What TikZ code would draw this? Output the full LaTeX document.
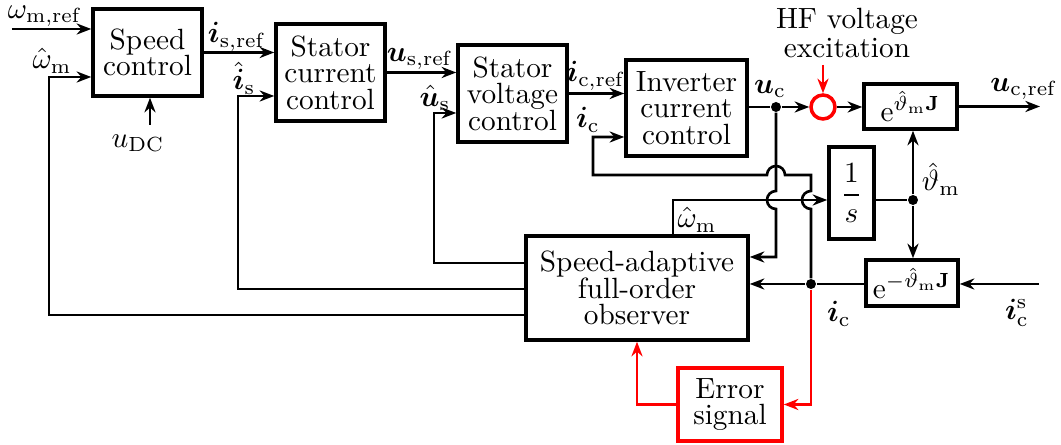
\documentclass[tikz,border=0pt]{standalone}
\usepackage{amsmath}
\usepackage{bm}
\usetikzlibrary{arrows.meta}
\newcommand{\pxu}{0.3415pt}
\tikzset{
    EMPTY/.style={inner sep=0mm, outer sep=0mm},
    BLOCK/.style={draw=black, shape=rectangle, line width=1.2pt, inner sep=0mm,
        align=center, font={\linespread{0.75}\selectfont\lineskiplimit=-5pt}},
    RED_BLOCK/.style={BLOCK, draw=red},
    SUM/.style={draw=red, shape=circle, line width=1.2pt, minimum size=24*\pxu,
        inner sep=0mm},
    BLACK_DOT/.style={fill=black, shape=circle, minimum size=10*\pxu, inner sep=0mm},
    EDGE/.style={draw=black, line width=0.9pt},
    ARROW/.style={EDGE, -{Stealth[length=5pt, width=3.8pt]}},
    RED_EDGE/.style={EDGE, red},
    RED_ARROW/.style={ARROW, red}
}
\pgfdeclarelayer{edgelayer}
\pgfdeclarelayer{nodelayer}
\pgfsetlayers{edgelayer,nodelayer,main}

\begin{document}
\begin{tikzpicture}[x=\pxu, y=-\pxu]
    \useasboundingbox (0,0) rectangle (1061,445);
    \begin{pgfonlayer}{nodelayer}
        % blocks
        \node [BLOCK, minimum width=109*\pxu, minimum height=87*\pxu] (speed) at (147.5,52.5) {Speed\\control};
        \node [BLOCK, minimum width=109*\pxu, minimum height=97*\pxu] (scc) at (330.5,72.5) {Stator\\current\\control};
        \node [BLOCK, minimum width=109*\pxu, minimum height=97*\pxu] (svc) at (512.5,93.5) {Stator\\voltage\\control};
        \node [BLOCK, minimum width=121*\pxu, minimum height=96*\pxu] (icc) at (686.5,108) {Inverter\\current\\control};
        \node [BLOCK, minimum width=93*\pxu, minimum height=45*\pxu] (rot) at (910.5,106.5) {$\mathrm{e}^{\hat{\vartheta}_{\mathrm{m}}\mathbf{J}}$};
        \node [BLOCK, minimum width=45*\pxu, minimum height=92*\pxu] (int) at (851.5,193) {$\dfrac{1}{s}$};
        \node [BLOCK, minimum width=92*\pxu, minimum height=46*\pxu] (irot) at (912,283) {$\mathrm{e}^{-\hat{\vartheta}_{\mathrm{m}}\mathbf{J}}$};
        \node [BLOCK, minimum width=222*\pxu, minimum height=104*\pxu] (obs) at (637,288) {Speed-adaptive\\full-order\\observer};
        \node [RED_BLOCK, minimum width=104*\pxu, minimum height=73*\pxu] (err) at (730,404.5) {Error\\signal};
        \node [SUM] (sum) at (823,107) {};
        \node [BLACK_DOT] (ucdot) at (776,107) {};
        \node [BLACK_DOT] (icdot) at (811,284) {};
        \node [BLACK_DOT] (thdot) at (913,200) {};
        % labels
        \node [EMPTY] (lwref) at (45,16) {$\omega_{\mathrm{m,ref}}$};
        \node [EMPTY] (lwfb) at (52,61) {$\hat{\omega}_{\mathrm{m}}$};
        \node [EMPTY] (ludc) at (138,143) {$u_{\mathrm{DC}}$};
        \node [EMPTY] (lisref) at (237,37) {$\bm{i}_{\mathrm{s,ref}}$};
        \node [EMPTY] (lis) at (244,78) {$\hat{\bm{i}}_{\mathrm{s}}$};
        \node [EMPTY] (lusref) at (420,59) {$\bm{u}_{\mathrm{s,ref}}$};
        \node [EMPTY] (lus) at (435,98) {$\hat{\bm{u}}_{\mathrm{s}}$};
        \node [EMPTY] (licref) at (596,76) {$\bm{i}_{\mathrm{c,ref}}$};
        \node [EMPTY] (lic) at (588,120) {$\bm{i}_{\mathrm{c}}$};
        \node [EMPTY] (luc) at (770,89) {$\bm{u}_{\mathrm{c}}$};
        \node [EMPTY] (lucref) at (1024,89) {$\bm{u}_{\mathrm{c,ref}}$};
        \node [EMPTY] (lth) at (941,179) {$\hat{\vartheta}_{\mathrm{m}}$};
        \node [EMPTY] (lwobs) at (697,220) {$\hat{\omega}_{\mathrm{m}}$};
        \node [EMPTY] (lic2) at (839,314) {$\bm{i}_{\mathrm{c}}$};
        \node [EMPTY] (lics) at (1017,313) {$\bm{i}_{\mathrm{c}}^{\mathrm{s}}$};
        \node [EMPTY, align=center, font={\linespread{0.85}\selectfont}] (hftext) at (847,33) {HF voltage\\excitation};
    \end{pgfonlayer}
    % corners and free ends
    \coordinate (wref) at (12,29);
    \coordinate (wfb) at (49,315);
    \coordinate (wfbt) at (49,77);
    \coordinate (udc) at (150,125);
    \coordinate (isfb) at (238,289);
    \coordinate (isfbt) at (238,96);
    \coordinate (usfb) at (434,263);
    \coordinate (usfbt) at (434,113);
    \coordinate (icup) at (811,175);
    \coordinate (icl) at (593,175);
    \coordinate (iclt) at (593,137);
    \coordinate (hf) at (823,65);
    \coordinate (ucref) at (1040,107);
    \coordinate (ucobs) at (776,257);
    \coordinate (wmid) at (673,200);
    \coordinate (ics) at (1039,284);
    \begin{pgfonlayer}{edgelayer}
        \draw[ARROW] (wref) to (wref -| speed.west);
        \draw[ARROW] (obs.west |- wfb) -- (wfb) -- (wfbt) -- (wfbt -| speed.west);
        \draw[ARROW] (udc) -- (udc |- speed.south);
        \draw[ARROW] (speed.east) -- (speed.east -| scc.west);
        \draw[ARROW] (obs.west |- isfb) -- (isfb) -- (isfbt) -- (isfbt -| scc.west);
        \draw[ARROW] (scc.east) -- (scc.east -| svc.west);
        \draw[ARROW] (obs.west |- usfb) -- (usfb) -- (usfbt) -- (usfbt -| svc.west);
        \draw[ARROW] (svc.east) -- (svc.east -| icc.west);
        \draw[ARROW] (icdot) -- (811,209) arc[start angle=270, end angle=90, radius=9*\pxu]
            -- (icup) -- (785,175) arc[start angle=0, end angle=180, radius=9*\pxu]
            -- (icl) -- (iclt) -- (iclt -| icc.west);
        \draw[EDGE] (icc.east |- ucdot) -- (ucdot);
        \draw[ARROW] (ucdot) -- (sum.west);
        \draw[RED_ARROW] (hf) -- (sum.north);
        \draw[ARROW] (sum.east) -- (sum.east -| rot.west);
        \draw[ARROW] (rot.east) -- (rot.east -| ucref);
        \draw[ARROW] (ucdot) -- (776,191) arc[start angle=90, end angle=270, radius=9*\pxu]
            -- (ucobs) -- (ucobs -| obs.east);
        \draw[ARROW] (obs.north -| wmid) -- (wmid) -- (wmid -| int.west);
        \draw[EDGE] (int.east |- thdot) -- (thdot);
        \draw[ARROW] (thdot) -- (thdot |- rot.south);
        \draw[ARROW] (thdot) -- (thdot |- irot.north);
        \draw[ARROW] (ics) -- (ics -| irot.east);
        \draw[EDGE] (irot.west |- icdot) -- (icdot);
        \draw[ARROW] (icdot) -- (icdot -| obs.east);
        \draw[RED_ARROW] (icdot) |- (err.east);
        \draw[RED_ARROW] (err.west) -| (obs.south);
    \end{pgfonlayer}
\end{tikzpicture}
\end{document}
